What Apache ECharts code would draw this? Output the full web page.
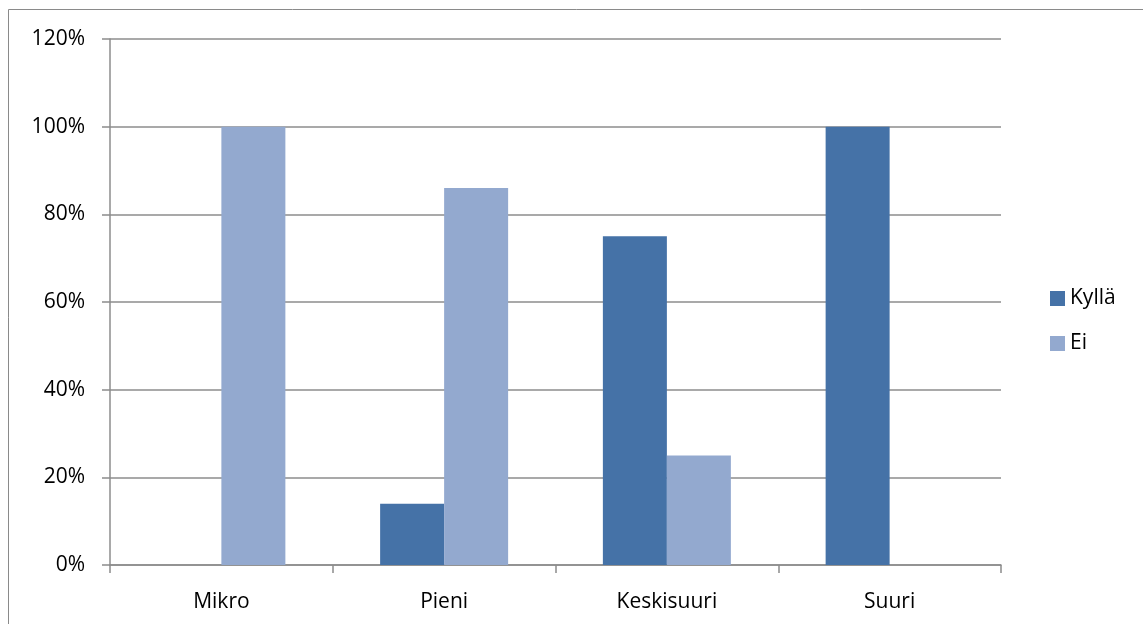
<!DOCTYPE html>
<html>
<head>
<meta charset="utf-8">
<style>
  html, body { margin: 0; padding: 0; background: #ffffff; }
  #chart { width: 1143px; height: 624px; }
</style>
<script src="https://cdn.jsdelivr.net/npm/echarts@6/dist/echarts.min.js"></script>
</head>
<body>
<div id="chart"></div>
<script>
// Company size categories and share of answers (%)
const categories = ['Mikro', 'Pieni', 'Keskisuuri', 'Suuri'];
const kyllaValues = [0, 14, 75, 100];
const eiValues = [100, 86, 25, 0];
const seriesNames = ['Kyllä', 'Ei'];

const FONT = '"Open Sans", "Noto Sans", sans-serif';
const FONT_SIZE = 21;
const AXIS_GREY = '#8c8c8c';

const chart = echarts.init(document.getElementById('chart'), null, { renderer: 'canvas' });

chart.setOption({
  backgroundColor: '#ffffff',
  animation: false,
  textStyle: { fontFamily: FONT },
  graphic: [{
    type: 'rect',
    shape: { x: 8.5, y: 9.5, width: 1200, height: 700 },
    style: { fill: 'none', stroke: '#8a8a8a', lineWidth: 1 },
    silent: true
  }],
  grid: { left: 110, top: 39, width: 891, height: 526, containLabel: false },
  legend: {
    orient: 'vertical',
    left: 1045,
    top: 283,
    itemWidth: 15,
    itemHeight: 15,
    itemGap: 24,
    icon: 'rect',
    textStyle: { fontFamily: FONT, fontSize: FONT_SIZE, color: '#000000' },
    data: seriesNames
  },
  xAxis: {
    type: 'category',
    data: categories,
    boundaryGap: true,
    axisLine: { lineStyle: { color: AXIS_GREY, width: 1.5 } },
    axisTick: { show: true, length: 8, inside: false, lineStyle: { color: AXIS_GREY, width: 1.5 } },
    axisLabel: { fontFamily: FONT, fontSize: FONT_SIZE, color: '#000000', margin: 27 }
  },
  yAxis: {
    type: 'value',
    min: 0,
    max: 120,
    interval: 20,
    axisLine: { show: true, lineStyle: { color: AXIS_GREY, width: 1.5 } },
    axisTick: { show: true, length: 8, lineStyle: { color: AXIS_GREY, width: 1.5 } },
    splitLine: { show: true, lineStyle: { color: AXIS_GREY, width: 1.5 } },
    axisLabel: { fontFamily: FONT, fontSize: FONT_SIZE, color: '#000000', margin: 25, formatter: '{value}%' }
  },
  series: [
    {
      name: seriesNames[0],
      type: 'bar',
      data: kyllaValues,
      barWidth: 64,
      barGap: '0%',
      itemStyle: { color: '#4572a7' }
    },
    {
      name: seriesNames[1],
      type: 'bar',
      data: eiValues,
      barWidth: 64,
      barGap: '0%',
      itemStyle: { color: '#93a9cf' }
    }
  ]
});
</script>
</body>
</html>
